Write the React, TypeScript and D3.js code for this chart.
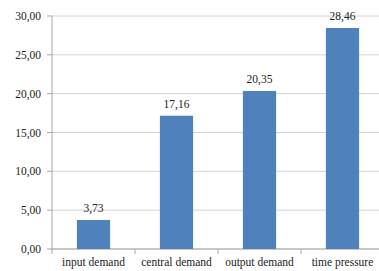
import React from 'react';
import * as d3 from 'd3';

const categories = ['input demand', 'central demand', 'output demand', 'time pressure'];
const values = [3.73, 17.16, 20.35, 28.46];
const yTicks = [0, 5, 10, 15, 20, 25, 30];

const fmt = (v: number) => v.toFixed(2).replace('.', ',');

const App: React.FC = () => {
    const width = 379;
    const height = 271;
    const margin = { top: 16, right: -5, bottom: 22, left: 52 };

    const x = d3.scaleBand<string>()
        .domain(categories)
        .range([margin.left, width - margin.right])
        .paddingInner(0.6)
        .paddingOuter(0.3);

    const y = d3.scaleLinear()
        .domain([0, 30])
        .range([height - margin.bottom, margin.top]);

    const bandStep = x.step();
    const textStyle = { fontFamily: "'Liberation Serif', 'Times New Roman', Times, serif", fontSize: '11.5px' };

    return (
        <svg width={width} height={height} style={{ position: 'absolute', left: 0, top: 0, background: '#fff' }}>
            {/* gridlines + y labels */}
            {yTicks.map(t => (
                <g key={t}>
                    <line x1={margin.left} x2={width} y1={y(t)} y2={y(t)} stroke="#d4d4d4" strokeWidth={1} />
                    <line x1={margin.left - 5} x2={margin.left} y1={y(t)} y2={y(t)} stroke="#a6a6a6" />
                    <text x={41} y={y(t) + 4} textAnchor="end" style={textStyle} fill="#222">{fmt(t)}</text>
                </g>
            ))}
            {/* axes */}
            <line x1={margin.left} x2={margin.left} y1={y(30)} y2={y(0)} stroke="#a6a6a6" />
            <line x1={margin.left} x2={width} y1={y(0)} y2={y(0)} stroke="#a6a6a6" />
            {categories.map((c, i) => {
                const start = margin.left + i * bandStep;
                return <line key={'t' + c} x1={start} x2={start} y1={y(0)} y2={y(0) + 5} stroke="#a6a6a6" />;
            })}
            {/* bars */}
            {categories.map((c, i) => (
                <g key={c}>
                    <rect x={x(c)} y={y(values[i])} width={x.bandwidth()} height={y(0) - y(values[i])} fill="#4f81bd" />
                    <text x={(x(c) ?? 0) + x.bandwidth() / 2} y={y(values[i]) - 8} textAnchor="middle" style={textStyle} fill="#222">{fmt(values[i])}</text>
                    <text x={(x(c) ?? 0) + x.bandwidth() / 2} y={266} textAnchor="middle" style={textStyle} fill="#222">{c}</text>
                </g>
            ))}
        </svg>
    );
};

export default App;
